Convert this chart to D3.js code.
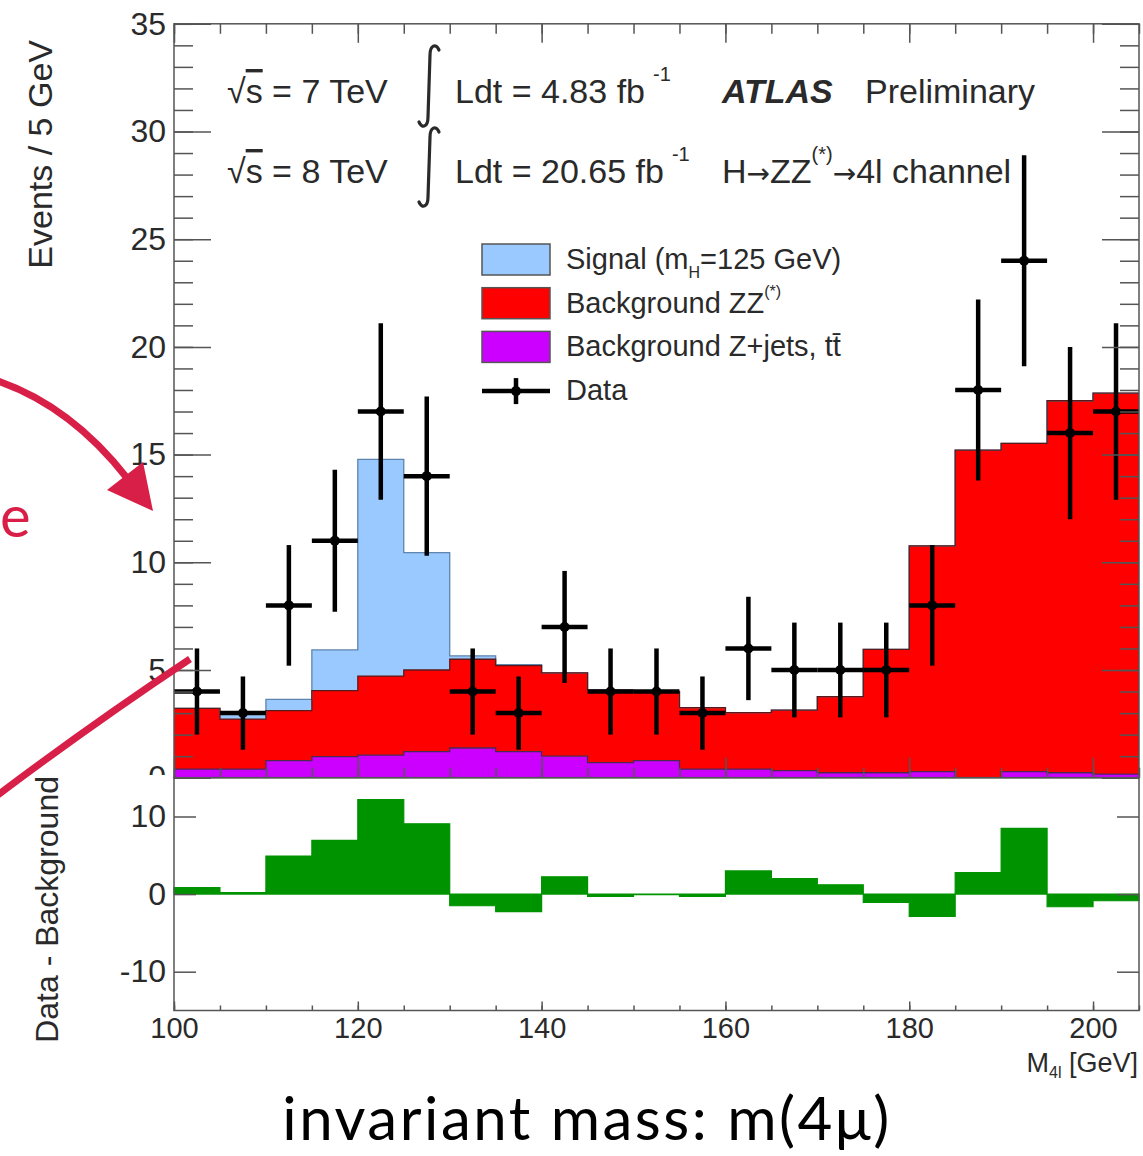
<!DOCTYPE html>
<html lang="en">
<head>
<meta charset="UTF-8">
<title>H→ZZ(*)→4l mass spectrum</title>
<script src="https://d3js.org/d3.v7.min.js"></script>
<style>
  body { margin: 0; background: #fff; }
  svg text { font-family: "Liberation Sans", Arial, Helvetica, sans-serif; fill: #2a2a2a; }
</style>
</head>
<body>
<div id="chart"></div>
<script>
// bin centres (5 GeV bins, 100-205 GeV)
const binCenters = [102.5, 107.5, 112.5, 117.5, 122.5, 127.5, 132.5, 137.5, 142.5, 147.5, 152.5,
                    157.5, 162.5, 167.5, 172.5, 177.5, 182.5, 187.5, 192.5, 197.5, 202.5];
// stacked contributions, events / bin
const zjets  = [0.40, 0.40, 0.79, 0.98, 1.05, 1.21, 1.38, 1.21, 1.00, 0.70, 0.79,
                0.40, 0.40, 0.33, 0.23, 0.23, 0.28, 0.00, 0.28, 0.23, 0.17];
const zz     = [2.82, 2.32, 2.32, 3.06, 3.67, 3.79, 4.12, 3.99, 3.87, 3.37, 3.21,
                2.85, 2.62, 2.81, 3.53, 5.73, 10.48, 15.21, 15.24, 17.27, 17.68];
const signal = [0.00, 0.22, 0.53, 1.89, 10.06, 5.45, 0.16, 0.05, 0, 0, 0,
                0, 0, 0, 0, 0, 0, 0, 0, 0, 0];
// observed data and error bars
const dataCounts = [4, 3, 8, 11, 17, 14, 4, 3, 7, 4, 4, 3, 6, 5, 5, 5, 8, 18, 24, 16, 17];
const dataErrors = [2.0, 1.7, 2.8, 3.3, 4.1, 3.7, 2.0, 1.7, 2.6, 2.0, 2.0,
                    1.7, 2.4, 2.2, 2.2, 2.2, 2.8, 4.2, 4.9, 4.0, 4.1];
// lower panel
const dataMinusBkg = [0.85, 0.2, 4.91, 6.92, 12.18, 9.05, -1.50, -2.27, 2.22, -0.30, -0.08,
                      -0.30, 2.99, 2.00, 1.19, -1.07, -2.87, 2.77, 8.46, -1.63, -0.86];

const yTicksTop = [0, 5, 10, 15, 20, 25, 30, 35];
const yTicksBottom = [-10, 0, 10];
const xTicks = [100, 120, 140, 160, 180, 200];

const width = 1143, height = 1156;
const binWidth = 5;
const frameColor = "#555";

const svg = d3.select("#chart").append("svg")
  .attr("width", width)
  .attr("height", height);

const x = d3.scaleLinear().domain([100, 205]).range([174, 1139]);
const yTop = d3.scaleLinear().domain([0, 35]).range([777.7, 23.8]);
const yBot = d3.scaleLinear().domain([-15, 15]).range([1010.5, 777.7]);

svg.append("defs").append("clipPath").attr("id", "clipTop")
  .append("rect").attr("x", x(100)).attr("y", yTop(35))
  .attr("width", x(205) - x(100)).attr("height", yTop(0) - yTop(35));

// ---------- top panel: stacked histograms ----------
const rows = binCenters.map((c, i) => ({ lo: c - binWidth / 2, zjets: zjets[i], zz: zz[i], signal: signal[i] }));
const stack = d3.stack().keys(["zjets", "zz", "signal"])(rows);

function stepPoints(layer) {
  const pts = layer.map((d, i) => ({ x: rows[i].lo, y0: d[0], y1: d[1] }));
  const last = pts[pts.length - 1];
  pts.push({ x: last.x + binWidth, y0: last.y0, y1: last.y1 });
  return pts;
}

const area = d3.area().curve(d3.curveStepAfter)
  .x(d => x(d.x)).y0(d => yTop(d.y0)).y1(d => yTop(d.y1));
const topLine = d3.line().curve(d3.curveStepAfter)
  .x(d => x(d.x)).y(d => yTop(d.y1));

const fills = { zjets: "#cc00ff", zz: "#ff0000", signal: "#99c9ff" };
const outlines = { zjets: "#4a2a55", zz: "#5a1a1a", signal: "#5f84ad" };

const plot = svg.append("g").attr("clip-path", "url(#clipTop)");
stack.forEach(layer => {
  plot.append("path").datum(stepPoints(layer))
    .attr("d", area).attr("fill", fills[layer.key]);
});
stack.slice().reverse().forEach(layer => {
  plot.append("path").datum(stepPoints(layer))
    .attr("d", topLine).attr("fill", "none")
    .attr("stroke", outlines[layer.key]).attr("stroke-width", 1.3);
});

// data points
const dataG = svg.append("g").attr("stroke", "#000").attr("stroke-width", 4.5);
binCenters.forEach((c, i) => {
  const n = dataCounts[i], e = dataErrors[i];
  dataG.append("line").attr("x1", x(c)).attr("x2", x(c))
    .attr("y1", yTop(n - e)).attr("y2", yTop(Math.min(n + e, 35)));
  dataG.append("line").attr("x1", x(c - binWidth / 2)).attr("x2", x(c + binWidth / 2))
    .attr("y1", yTop(n)).attr("y2", yTop(n));
  dataG.append("circle").attr("cx", x(c)).attr("cy", yTop(n)).attr("r", 5).attr("fill", "#000").attr("stroke", "none");
});

// ---------- axes helpers ----------
function styleAxis(g, fontSize) {
  g.select(".domain").remove();
  g.selectAll(".tick line").attr("stroke", frameColor).attr("stroke-width", 1.5);
  g.selectAll("text").attr("font-size", fontSize).attr("fill", "#2a2a2a");
  g.attr("font-family", null).attr("font-size", null);
}

const minorY = d3.range(0, 36, 1);
const minorX = d3.range(100, 206, 5);
const plain = d => String(d);

// top panel left / right
svg.append("g").attr("transform", `translate(${x(100)},0)`)
  .call(d3.axisLeft(yTop).tickValues(minorY).tickSize(-19).tickFormat(""))
  .call(g => styleAxis(g, 32));
svg.append("g").attr("transform", `translate(${x(100)},0)`)
  .call(d3.axisLeft(yTop).tickValues(yTicksTop).tickSize(-37).tickPadding(8).tickFormat(plain))
  .call(g => styleAxis(g, 32));
svg.append("g").attr("transform", `translate(${x(205)},0)`)
  .call(d3.axisRight(yTop).tickValues(minorY).tickSize(-19).tickFormat(""))
  .call(g => styleAxis(g, 32));
svg.append("g").attr("transform", `translate(${x(205)},0)`)
  .call(d3.axisRight(yTop).tickValues(yTicksTop).tickSize(-37).tickFormat(""))
  .call(g => styleAxis(g, 32));
// top panel top / bottom
svg.append("g").attr("transform", `translate(0,${yTop(35)})`)
  .call(d3.axisTop(x).tickValues(minorX).tickSize(-10).tickFormat(""))
  .call(g => styleAxis(g, 30));
svg.append("g").attr("transform", `translate(0,${yTop(35)})`)
  .call(d3.axisTop(x).tickValues(xTicks).tickSize(-19).tickFormat(""))
  .call(g => styleAxis(g, 30));
svg.append("g").attr("transform", `translate(0,${yTop(0)})`)
  .call(d3.axisBottom(x).tickValues(minorX).tickSize(-10).tickFormat(""))
  .call(g => styleAxis(g, 30));
svg.append("g").attr("transform", `translate(0,${yTop(0)})`)
  .call(d3.axisBottom(x).tickValues(xTicks).tickSize(-20).tickFormat(""))
  .call(g => styleAxis(g, 30));

svg.append("rect").attr("x", x(100)).attr("y", yTop(35))
  .attr("width", x(205) - x(100)).attr("height", yTop(0) - yTop(35))
  .attr("fill", "none").attr("stroke", frameColor).attr("stroke-width", 1.5);

// lower pad hides the lower part of the "0" label
svg.append("rect").attr("x", 0).attr("y", 775).attr("width", x(100) - 1).attr("height", 20).attr("fill", "#fff");

// ---------- lower panel ----------
const diffPts = binCenters.map((c, i) => ({ x: c - binWidth / 2, v: dataMinusBkg[i] }));
diffPts.push({ x: 205, v: dataMinusBkg[dataMinusBkg.length - 1] });
svg.append("path").datum(diffPts)
  .attr("d", d3.area().curve(d3.curveStepAfter).x(d => x(d.x)).y0(yBot(0)).y1(d => yBot(d.v)))
  .attr("fill", "#009300").attr("stroke", "#009300").attr("stroke-width", 1.2);

svg.append("g").attr("transform", `translate(${x(100)},0)`)
  .call(d3.axisLeft(yBot).tickValues(yTicksBottom).tickSize(-22).tickPadding(8).tickFormat(plain))
  .call(g => styleAxis(g, 32));
svg.append("g").attr("transform", `translate(${x(205)},0)`)
  .call(d3.axisRight(yBot).tickValues(yTicksBottom).tickSize(-22).tickFormat(""))
  .call(g => styleAxis(g, 32));
svg.append("g").attr("transform", `translate(0,${yBot(-15)})`)
  .call(d3.axisBottom(x).tickValues(minorX).tickSize(-5).tickFormat(""))
  .call(g => styleAxis(g, 30));
svg.append("g").attr("transform", `translate(0,${yBot(-15)})`)
  .call(d3.axisBottom(x).tickValues(xTicks).tickSize(-9).tickPadding(7).tickFormat(plain))
  .call(g => styleAxis(g, 29));

svg.append("rect").attr("x", x(100)).attr("y", yBot(15))
  .attr("width", x(205) - x(100)).attr("height", yBot(-15) - yBot(15))
  .attr("fill", "none").attr("stroke", frameColor).attr("stroke-width", 1.5);

// ---------- axis titles ----------
svg.append("text").attr("transform", "translate(52,40) rotate(-90)")
  .attr("text-anchor", "end").attr("font-size", 34).text("Events / 5 GeV");
svg.append("text").attr("transform", "translate(58,776) rotate(-90)")
  .attr("text-anchor", "end").attr("font-size", 32).text("Data - Background");

const mLabel = svg.append("text").attr("x", 1138).attr("y", 1072)
  .attr("text-anchor", "end").attr("font-size", 27);
mLabel.append("tspan").text("M");
mLabel.append("tspan").attr("font-size", 16).attr("dy", 6).text("4l");
mLabel.append("tspan").attr("dy", -6).text(" [GeV]");

// ---------- annotations ----------
const annSize = 34;
function sqrtLabel(yBase, txt) {
  const t = svg.append("text").attr("x", 227).attr("y", yBase).attr("font-size", annSize);
  t.append("tspan").text("√");
  t.append("tspan").style("text-decoration", "overline").text("s");
  t.append("tspan").text(txt);
}
sqrtLabel(103, " = 7 TeV");
sqrtLabel(183, " = 8 TeV");

// two stacked integral signs
function integral(cx, top, bottom) {
  svg.append("path")
    .attr("d", `M${cx + 10},${top + 5} C${cx + 7},${top - 2} ${cx + 1},${top} ${cx + 1},${top + 10}
                L${cx - 1},${bottom - 10} C${cx - 1},${bottom} ${cx - 7},${bottom + 2} ${cx - 10},${bottom - 5}`)
    .attr("fill", "none").attr("stroke", "#2a2a2a").attr("stroke-width", 3.2).attr("stroke-linecap", "round");
}
integral(429, 45, 127);
integral(429, 127, 207);

const l1 = svg.append("text").attr("x", 455).attr("y", 103).attr("font-size", annSize);
l1.append("tspan").text("Ldt = 4.83 fb");
l1.append("tspan").attr("dx", 8).attr("dy", -22).attr("font-size", 20).text("-1");
svg.append("text").attr("x", 722).attr("y", 103).attr("font-size", annSize)
  .attr("font-weight", "bold").attr("font-style", "italic").text("ATLAS");
svg.append("text").attr("x", 865).attr("y", 103).attr("font-size", annSize).text("Preliminary");

const l2 = svg.append("text").attr("x", 455).attr("y", 183).attr("font-size", annSize);
l2.append("tspan").text("Ldt = 20.65 fb");
l2.append("tspan").attr("dx", 8).attr("dy", -22).attr("font-size", 20).text("-1");
const ch = svg.append("text").attr("x", 722).attr("y", 183).attr("font-size", annSize);
ch.append("tspan").text("H");
ch.append("tspan").style("font-family", "'DejaVu Sans', sans-serif").attr("font-size", 28).text("→");
ch.append("tspan").text("ZZ");
ch.append("tspan").attr("dy", -22).attr("font-size", 20).text("(*)");
ch.append("tspan").attr("dy", 22).style("font-family", "'DejaVu Sans', sans-serif").attr("font-size", 28).text("→");
ch.append("tspan").text("4l channel");

// ---------- legend ----------
const legendItems = [
  { key: "signal", label: ["Signal (m", "H", "=125 GeV)"] },
  { key: "zz", label: ["Background ZZ", "(*)"] },
  { key: "zjets", label: ["Background Z+jets, t", "t̄"] },
  { key: "data", label: ["Data"] }
];
const legend = svg.append("g").attr("transform", "translate(482,244)");
legendItems.forEach((it, i) => {
  const yy = i * 43.7;
  if (it.key === "data") {
    legend.append("line").attr("x1", 0).attr("x2", 68).attr("y1", yy + 16).attr("y2", yy + 16)
      .attr("stroke", "#000").attr("stroke-width", 4.5);
    legend.append("line").attr("x1", 34).attr("x2", 34).attr("y1", yy + 3).attr("y2", yy + 29)
      .attr("stroke", "#000").attr("stroke-width", 4.5);
    legend.append("circle").attr("cx", 34).attr("cy", yy + 16).attr("r", 5).attr("fill", "#000");
  } else {
    legend.append("rect").attr("x", 0).attr("y", yy).attr("width", 68).attr("height", 31)
      .attr("fill", fills[it.key]).attr("stroke", "#555").attr("stroke-width", 1.5);
  }
  const t = legend.append("text").attr("x", 84).attr("y", yy + 25).attr("font-size", 29);
  if (it.key === "signal") {
    t.append("tspan").text(it.label[0]);
    t.append("tspan").attr("dy", 9).attr("font-size", 16).text(it.label[1]);
    t.append("tspan").attr("dy", -9).text(it.label[2]);
  } else if (it.key === "zz") {
    t.append("tspan").text(it.label[0]);
    t.append("tspan").attr("dy", -16).attr("font-size", 16).text(it.label[1]);
  } else {
    t.text(it.label.join(""));
  }
});

// ---------- slide overlay ----------
const crimson = "#d81f47";
svg.append("path").attr("d", "M-5,380 Q70,405 127,478")
  .attr("fill", "none").attr("stroke", crimson).attr("stroke-width", 7);
svg.append("path").attr("d", "M107,490 L143,462 L153,511 Z").attr("fill", crimson);
svg.append("path").attr("d", "M-5,797 Q95,722 190,659")
  .attr("fill", "none").attr("stroke", crimson).attr("stroke-width", 7);
svg.append("text").attr("x", 0).attr("y", 537)
  .attr("font-size", 58).style("font-family", "Lato, sans-serif").style("fill", crimson).text("e");

svg.append("text").attr("x", 587).attr("y", 1140).attr("text-anchor", "middle")
  .attr("font-size", 60).attr("letter-spacing", 2.5)
  .style("font-family", "Lato, sans-serif").style("fill", "#000")
  .text("invariant mass: m(4μ)");
</script>
</body>
</html>
